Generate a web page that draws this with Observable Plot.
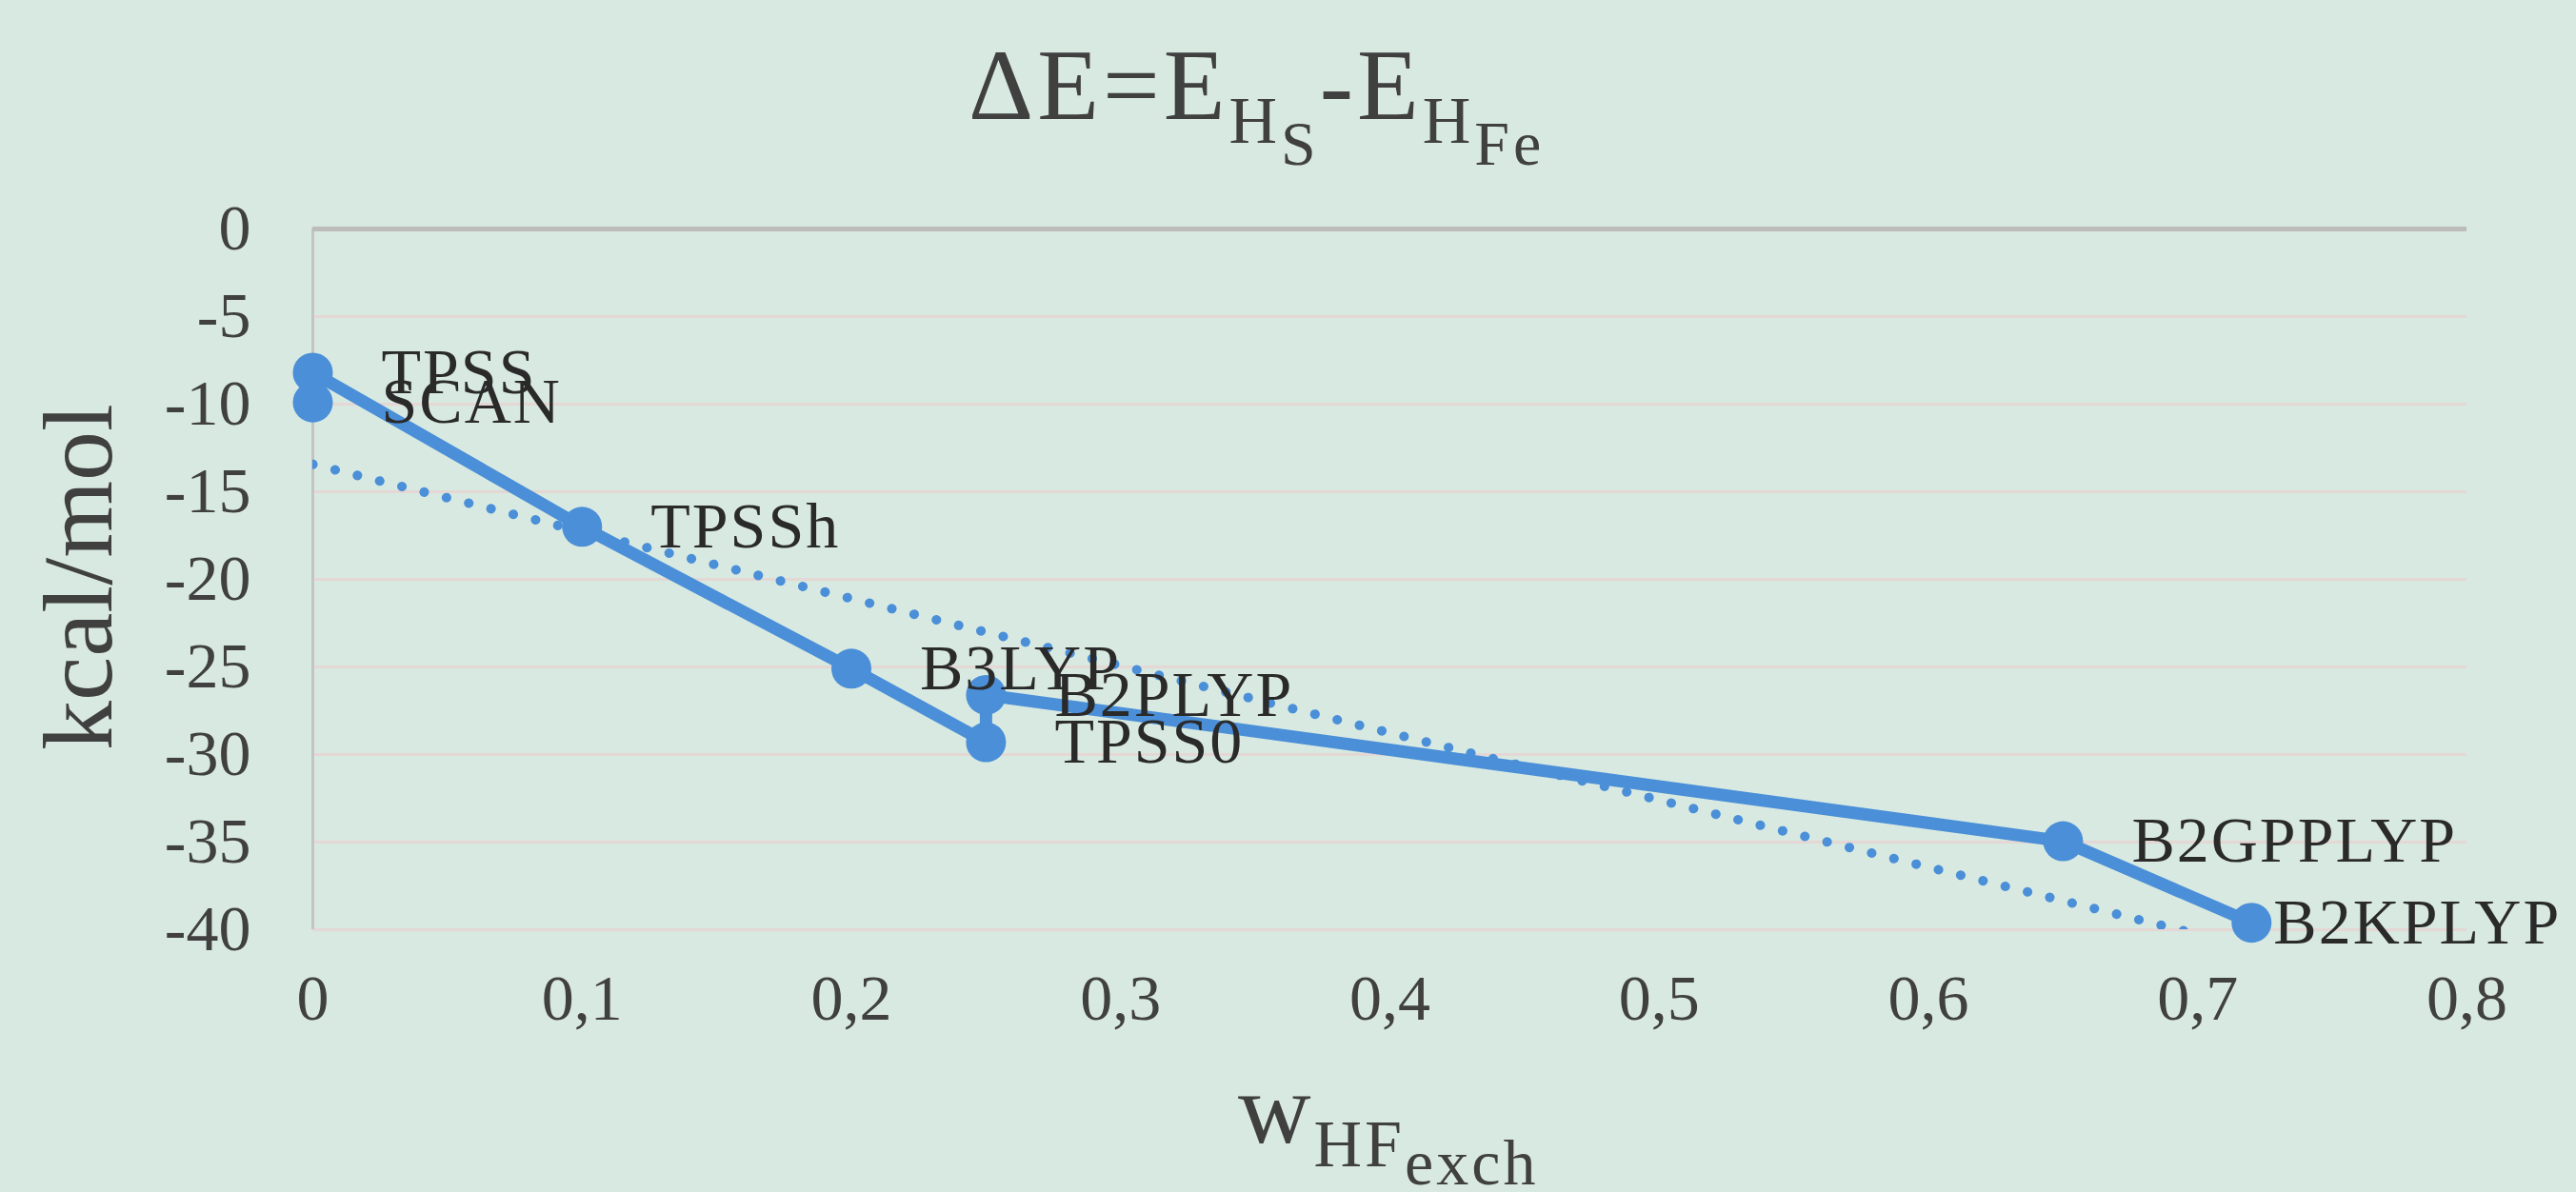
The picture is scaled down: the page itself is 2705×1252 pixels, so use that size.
<!DOCTYPE html>
<html>
<head>
<meta charset="utf-8">
<script src="https://cdn.jsdelivr.net/npm/d3@7"></script>
<script src="https://cdn.jsdelivr.net/npm/@observablehq/plot@0.6"></script>
<style>
  html, body { margin: 0; padding: 0; background: #d8e9e1; }
  #chart { width: 2705px; height: 1252px; overflow: hidden; }
</style>
</head>
<body>
<div id="chart"></div>
<script>
// ---- data ----
const methods    = ["SCAN", "TPSS", "TPSSh", "B3LYP", "TPSS0", "B2PLYP", "B2GPPLYP", "B2KPLYP"];
const hfExchange = [0, 0, 0.1, 0.2, 0.25, 0.25, 0.65, 0.72];
const deltaE     = [-9.9, -8.2, -17.0, -25.1, -29.3, -26.6, -34.95, -39.6];

const xTicks      = [0, 0.1, 0.2, 0.3, 0.4, 0.5, 0.6, 0.7, 0.8];
const xTickLabels = ["0", "0,1", "0,2", "0,3", "0,4", "0,5", "0,6", "0,7", "0,8"];
const yTicks      = [0, -5, -10, -15, -20, -25, -30, -35, -40];
const yTickLabels = ["0", "-5", "-10", "-15", "-20", "-25", "-30", "-35", "-40"];

const data = methods.map((m, i) => ({method: m, x: hfExchange[i], y: deltaE[i]}));

const blue = "#4a8fd8";
const textColor = "#404040";
const font = "'Liberation Serif', 'Times New Roman', serif";

const plot = Plot.plot({
  width: 2705,
  height: 1252,
  marginLeft: 328,
  marginRight: 115,
  marginTop: 240,
  marginBottom: 276,
  style: {background: "transparent", fontFamily: font, fontSize: "68px", color: textColor, overflow: "visible"},
  x: {domain: [0, 0.8], label: null},
  y: {domain: [-40, 0], label: null},
  marks: [
    Plot.gridY(yTicks, {stroke: "#e4d7d4", strokeOpacity: 1, strokeWidth: 3}),
    Plot.ruleX([0], {stroke: "#c4c4c4", strokeWidth: 3}),
    Plot.ruleY([0], {stroke: "#bcbcbc", strokeWidth: 5}),
    Plot.axisX(xTicks, {
      anchor: "bottom", tickSize: 0, tickPadding: 46, fontSize: 68, color: textColor,
      tickFormat: (d) => xTickLabels[xTicks.indexOf(d)], label: null
    }),
    Plot.axisY(yTicks, {
      anchor: "left", tickSize: 0, tickPadding: 65, fontSize: 68, color: textColor,
      tickFormat: (d) => yTickLabels[yTicks.indexOf(d)], label: null
    }),
    Plot.linearRegressionY(data, {
      x: "x", y: "y", ci: 0, stroke: blue, strokeWidth: 10,
      strokeDasharray: "0.1 24", strokeLinecap: "round", clip: true
    }),
    Plot.line(data, {x: "x", y: "y", stroke: blue, strokeWidth: 13, strokeLinejoin: "round"}),
    Plot.dot(data, {x: "x", y: "y", r: 21, fill: blue, stroke: null}),
    Plot.text(data.filter((d) => d.method !== "B2KPLYP"), {
      x: "x", y: "y", text: "method", textAnchor: "start", lineAnchor: "middle",
      dx: 72, fontSize: 68, fill: "#2a2a2a"
    }),
    Plot.text(data.filter((d) => d.method === "B2KPLYP"), {
      x: "x", y: "y", text: "method", textAnchor: "start", lineAnchor: "middle",
      dx: 23, fontSize: 68, fill: "#2a2a2a"
    })
  ]
});

const svg = d3.select(plot);
// slight letter-spacing on data labels to match the wider reference glyphs
svg.selectAll("g[aria-label='text'] text").style("letter-spacing", "2px");

// Title: ΔE=E_{H_S}-E_{H_Fe}
const title = svg.append("text")
  .attr("x", 1017).attr("y", 125)
  .attr("text-anchor", "start")
  .attr("fill", textColor)
  .attr("font-family", font)
  .attr("font-size", 106)
  .style("letter-spacing", "4px");
title.append("tspan").text("ΔE=E");
title.append("tspan").attr("font-size", 70).attr("dy", 25).text("H");
title.append("tspan").attr("font-size", 66).attr("dy", 23).text("S");
title.append("tspan").attr("font-size", 106).attr("dy", -48).text("-E");
title.append("tspan").attr("font-size", 70).attr("dy", 25).text("H");
title.append("tspan").attr("font-size", 66).attr("dy", 23).text("Fe");

// x-axis title: w_{HF_exch}
const xt = svg.append("text")
  .attr("x", 1300).attr("y", 1200)
  .attr("text-anchor", "start")
  .attr("fill", textColor)
  .attr("font-family", font)
  .attr("font-size", 106)
  .style("letter-spacing", "3px");
xt.append("tspan").text("w");
xt.append("tspan").attr("font-size", 70).attr("dy", 25).text("HF");
xt.append("tspan").attr("font-size", 68).attr("dy", 19).text("exch");

// y-axis title
svg.append("text")
  .attr("transform", "translate(117,606) rotate(-90)")
  .attr("text-anchor", "middle")
  .attr("fill", textColor)
  .attr("font-family", font)
  .attr("font-size", 104)
  .text("kcal/mol");

document.getElementById("chart").appendChild(plot);
</script>
</body>
</html>
